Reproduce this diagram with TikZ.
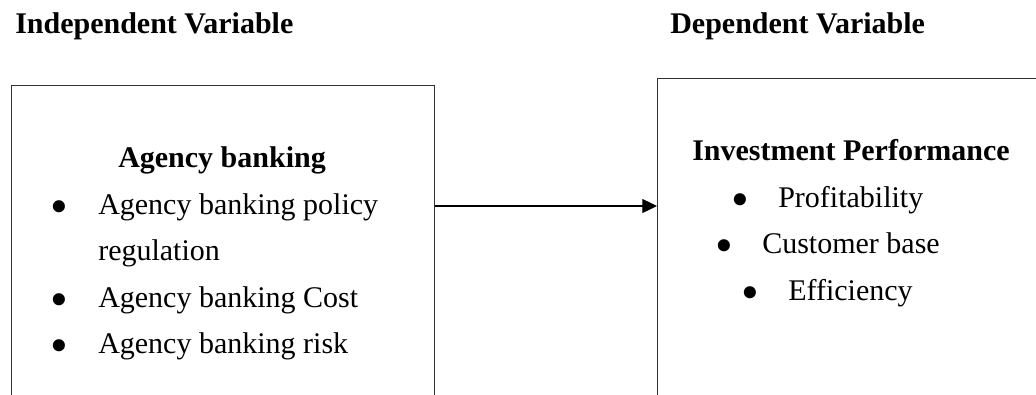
\documentclass[tikz,border=0pt]{standalone}
\usepackage{fontspec}
\setmainfont{Liberation Serif}
\usetikzlibrary{arrows.meta}
\tikzset{
  txt/.style={inner sep=0pt, anchor=base west, font=\fontsize{22.5}{27}\selectfont},
  head/.style={txt, font=\fontsize{22.5}{27}\selectfont\bfseries},
  bul/.style={inner sep=0pt, anchor=base, font=\fontsize{38}{40}\selectfont},
  frame/.style={draw=black!80, line width=0.8pt, inner sep=0pt, anchor=north west},
  conn/.style={draw=black, line width=0.9pt, -{Triangle[length=11pt,width=10.5pt]}}
}
\begin{document}
\begin{tikzpicture}[x=0.75pt, y=-0.75pt]
\useasboundingbox (0,0) rectangle (1036,394);
\clip (0,0) rectangle (1036,394);
% headings
\node[head] (hIndep) at (15,33) {Independent Variable};
\node[head] (hDep) at (670,33) {Dependent Variable};
% boxes (cut off at the page bottom / right)
\node[frame, minimum width=423*0.75pt, minimum height=340*0.75pt] (left) at (11,85) {};
\node[frame, minimum width=420*0.75pt, minimum height=350*0.75pt] (right) at (657,78) {};
% left box text
\node[head] (lt) at (118,167) {Agency banking};
\node[bul] (lb1) at (59,223) {•};
\node[txt] (l1) at (98,214) {Agency banking policy};
\node[txt] (l1b) at (98,260) {regulation};
\node[bul] (lb2) at (59,316) {•};
\node[txt] (l2) at (98,307) {Agency banking Cost};
\node[bul] (lb3) at (59,362) {•};
\node[txt] (l3) at (98,353) {Agency banking risk};
% right box text
\node[head] (rt) at (692,160) {Investment Performance};
\node[bul] (rb1) at (740,216) {•};
\node[txt] (r1) at (778,207) {Profitability};
\node[bul] (rb2) at (724,262) {•};
\node[txt] (r2) at (762,253) {Customer base};
\node[bul] (rb3) at (750,309) {•};
\node[txt] (r3) at (788,300) {Efficiency};
% connector
\coordinate (ay) at (0,206);
\draw[conn] (left.east |- ay) -- (right.west |- ay);
\end{tikzpicture}
\end{document}
